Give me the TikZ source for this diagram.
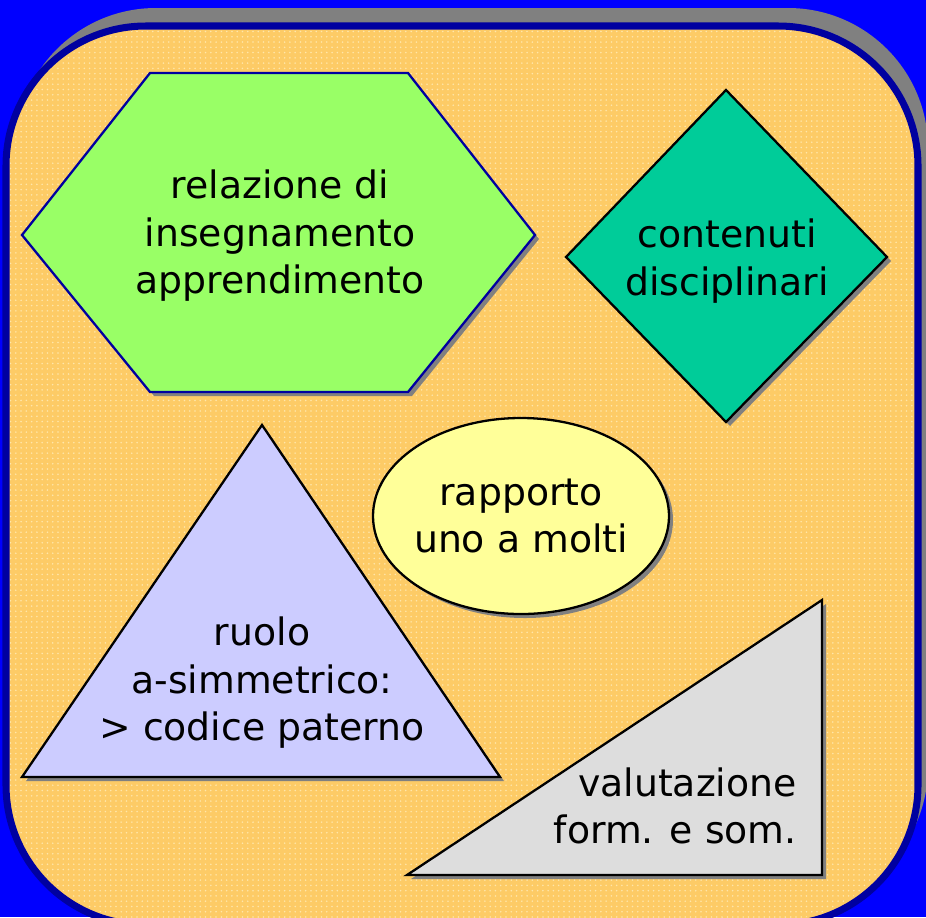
\documentclass[tikz,border=0pt]{standalone}
\usepackage{fontspec}
\setmainfont{DejaVu Sans}
\usetikzlibrary{patterns,shadows}

\definecolor{slideblue}{RGB}{0,0,255}
\definecolor{framenavy}{RGB}{0,0,160}
\definecolor{framegrey}{RGB}{128,128,128}
\definecolor{peach}{RGB}{253,203,102}
\definecolor{peachdot}{RGB}{255,230,170}
\definecolor{hexgreen}{RGB}{153,255,102}
\definecolor{diamondteal}{RGB}{0,204,153}
\definecolor{ellipseyellow}{RGB}{255,255,153}
\definecolor{trilavender}{RGB}{204,204,255}
\definecolor{rightgrey}{RGB}{221,221,221}

\tikzset{
  shapeshadow/.style={drop shadow={shadow xshift=0.08cm, shadow yshift=-0.08cm, opacity=1, fill=framegrey}},
  figure/.style={draw=black, line width=1.3pt, line join=miter, shapeshadow},
  label/.style={align=center, font=\fontsize{21.5}{27}\selectfont, inner sep=0pt}
}

\begin{document}
\begin{tikzpicture}[x=0.02cm, y=-0.02cm]
  % slide background
  \fill[slideblue] (0,0) rectangle (926,917);
  \useasboundingbox (0,0) rectangle (926,917);
  \clip (0,0) rectangle (926,917);

  % rounded frame
  \fill[framegrey, rounded corners=2.8cm] (16,8) rectangle (928,907);
  \draw[framenavy, fill=peach, line width=4pt, rounded corners=2.8cm] (6,26) rectangle (918,925);
  \fill[pattern=dots, pattern color=peachdot, rounded corners=2.8cm] (10,30) rectangle (914,921);

  % shapes
  \draw[figure, draw=framenavy, fill=hexgreen]
    (22,235) -- (150,73) -- (408,73) -- (535,235) -- (408,392) -- (150,392) -- cycle;
  \draw[figure, fill=diamondteal]
    (726,90) -- (887,257) -- (726,422) -- (566,257) -- cycle;
  \draw[figure, fill=ellipseyellow] (521,516) ellipse [x radius=148, y radius=98];
  \draw[figure, fill=trilavender]
    (262,425) -- (500,777) -- (22,777) -- cycle;
  \draw[figure, fill=rightgrey]
    (822,600) -- (822,875) -- (407,875) -- cycle;

  % texts
  \node[label] (relazione)   at (280,236) {relazione di\\insegnamento\\apprendimento};
  \node[label] (contenuti)   at (727,261) {contenuti\\disciplinari};
  \node[label] (rapporto)    at (521,516) {rapporto\\uno a molti};
  \node[label] (ruolo)       at (262,683) {ruolo\\a-simmetrico:\\> codice paterno};
  \node[label, align=right, anchor=east] (valutazione) at (797,806) {valutazione\\form. e som.};
\end{tikzpicture}
\end{document}
